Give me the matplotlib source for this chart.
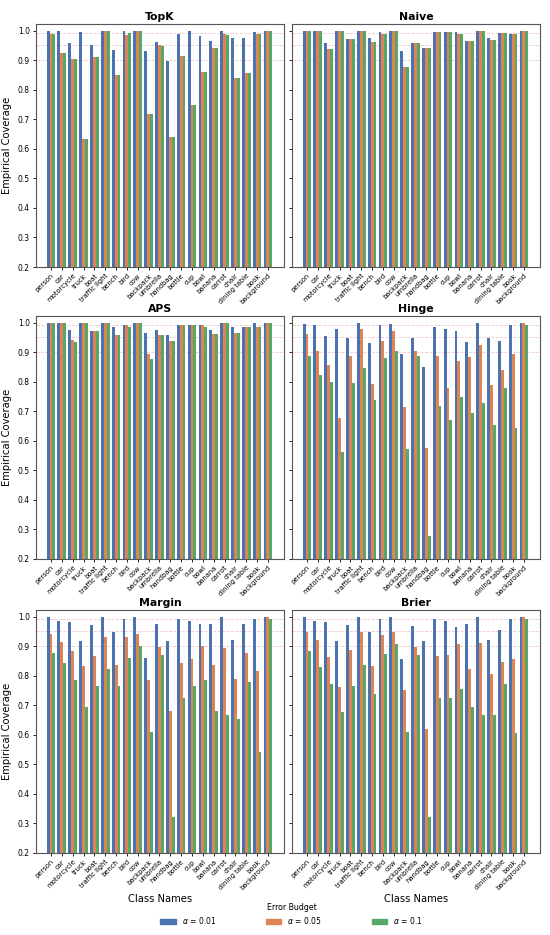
import matplotlib
matplotlib.use("Agg")
import matplotlib.pyplot as plt
import matplotlib.patches as mpatches
import numpy as np

categories = ["person", "car", "motorcycle", "truck", "boat", "traffic light", "bench",
              "bird", "cow", "backpack", "umbrella", "handbag", "bottle", "cup", "bowl",
              "banana", "carrot", "chair", "dining table", "book", "background"]
alphas = ["0.01", "0.05", "0.1"]

topk_01 = [0.997, 0.998, 0.957, 0.994, 0.951, 1.0, 0.934, 1.0, 0.998, 0.932, 0.960, 0.897, 0.989, 1.0, 0.981, 0.965, 1.0, 0.974, 0.975, 0.994, 1.0]
topk_05 = [0.989, 0.924, 0.904, 0.632, 0.909, 1.0, 0.849, 0.986, 0.997, 0.717, 0.952, 0.641, 0.913, 0.749, 0.858, 0.940, 0.989, 0.840, 0.856, 0.988, 1.0]
topk_10 = [0.989, 0.924, 0.904, 0.632, 0.909, 1.0, 0.849, 0.990, 0.997, 0.717, 0.949, 0.641, 0.913, 0.749, 0.858, 0.940, 0.986, 0.840, 0.856, 0.988, 1.0]

naive_01 = [1.0, 1.0, 0.958, 1.0, 0.972, 1.0, 0.975, 0.994, 1.0, 0.932, 0.959, 0.940, 0.994, 0.994, 0.994, 0.964, 1.0, 0.974, 0.990, 0.988, 1.0]
naive_05 = [1.0, 0.999, 0.938, 1.0, 0.972, 1.0, 0.961, 0.988, 1.0, 0.878, 0.959, 0.940, 0.994, 0.994, 0.989, 0.964, 1.0, 0.968, 0.990, 0.988, 1.0]
naive_10 = [1.0, 0.999, 0.938, 1.0, 0.972, 1.0, 0.961, 0.988, 1.0, 0.878, 0.959, 0.940, 0.994, 0.994, 0.989, 0.964, 1.0, 0.968, 0.990, 0.988, 1.0]

aps_01 = [1.0, 1.0, 0.974, 1.0, 0.970, 1.0, 0.986, 0.993, 1.0, 0.965, 0.974, 0.958, 0.993, 0.993, 0.993, 0.975, 1.0, 0.984, 0.986, 1.0, 1.0]
aps_05 = [1.0, 1.0, 0.940, 1.0, 0.970, 1.0, 0.958, 0.993, 1.0, 0.893, 0.957, 0.938, 0.993, 0.993, 0.993, 0.962, 1.0, 0.966, 0.986, 0.984, 1.0]
aps_10 = [1.0, 0.997, 0.934, 1.0, 0.970, 1.0, 0.958, 0.985, 1.0, 0.876, 0.957, 0.938, 0.993, 0.993, 0.985, 0.962, 1.0, 0.966, 0.986, 0.984, 1.0]

hinge_01 = [0.994, 0.990, 0.955, 0.977, 0.949, 1.0, 0.930, 0.992, 0.994, 0.893, 0.947, 0.851, 0.985, 0.977, 0.972, 0.934, 1.0, 0.946, 0.938, 0.992, 1.0]
hinge_05 = [0.960, 0.902, 0.856, 0.677, 0.888, 0.977, 0.792, 0.936, 0.971, 0.714, 0.904, 0.574, 0.888, 0.780, 0.870, 0.884, 0.924, 0.790, 0.841, 0.895, 0.999]
hinge_10 = [0.888, 0.824, 0.798, 0.563, 0.794, 0.845, 0.737, 0.880, 0.904, 0.573, 0.888, 0.277, 0.716, 0.671, 0.749, 0.693, 0.728, 0.654, 0.777, 0.644, 0.992]

margin_01 = [0.998, 0.986, 0.982, 0.918, 0.971, 1.0, 0.946, 0.993, 1.0, 0.858, 0.976, 0.918, 0.993, 0.986, 0.974, 0.976, 1.0, 0.922, 0.974, 0.993, 1.0]
margin_05 = [0.942, 0.915, 0.884, 0.833, 0.868, 0.932, 0.835, 0.930, 0.941, 0.786, 0.898, 0.681, 0.844, 0.856, 0.901, 0.835, 0.895, 0.789, 0.876, 0.815, 1.0]
margin_10 = [0.876, 0.842, 0.786, 0.694, 0.764, 0.823, 0.765, 0.858, 0.901, 0.609, 0.871, 0.322, 0.725, 0.764, 0.785, 0.681, 0.668, 0.652, 0.780, 0.541, 0.990]

brier_01 = [0.998, 0.985, 0.982, 0.918, 0.971, 1.0, 0.946, 0.993, 1.0, 0.857, 0.967, 0.918, 0.993, 0.986, 0.965, 0.976, 1.0, 0.922, 0.954, 0.993, 1.0]
brier_05 = [0.947, 0.919, 0.864, 0.763, 0.887, 0.946, 0.834, 0.936, 0.949, 0.751, 0.897, 0.619, 0.868, 0.871, 0.907, 0.821, 0.909, 0.805, 0.847, 0.855, 1.0]
brier_10 = [0.882, 0.828, 0.772, 0.678, 0.764, 0.837, 0.738, 0.874, 0.906, 0.609, 0.871, 0.321, 0.724, 0.726, 0.756, 0.693, 0.667, 0.666, 0.772, 0.606, 0.993]

methods = ["TopK", "Naive", "APS", "Hinge", "Margin", "Brier"]
series = {
    "TopK": [topk_01, topk_05, topk_10],
    "Naive": [naive_01, naive_05, naive_10],
    "APS": [aps_01, aps_05, aps_10],
    "Hinge": [hinge_01, hinge_05, hinge_10],
    "Margin": [margin_01, margin_05, margin_10],
    "Brier": [brier_01, brier_05, brier_10],
}

colors = ["#4C72B0", "#DD8452", "#55A868"]
W, H = 550, 935
fig = plt.figure(figsize=(W / 100, H / 100), dpi=100)

col_left = [36, 292]
col_width = 248
row_top = [24, 316, 610]
row_h = 243

x = np.arange(len(categories))
bw = 0.8 / 3
axes = []
for i, m in enumerate(methods):
    r, c = divmod(i, 2)
    ax = fig.add_axes([col_left[c] / W, 1 - (row_top[r] + row_h) / H, col_width / W, row_h / H])
    axes.append(ax)
    for k in range(3):
        ax.bar(x + (k - 1) * bw, series[m][k], width=bw, color=colors[k], linewidth=0, zorder=2)
    for a in alphas:
        ax.axhline(1 - float(a), color="#e8a0a0", lw=0.6, ls="--", alpha=0.6, zorder=1)
    ax.set_ylim(0.2, 1.022)
    ax.set_xlim(-1.38, len(categories) - 1 + 1.48)
    ax.set_yticks(np.arange(0.2, 1.01, 0.1))
    ax.set_xticks(x)
    ax.set_xticklabels(categories, rotation=45, ha="right", rotation_mode="anchor", fontsize=4.9)
    ax.tick_params(axis="y", labelsize=5.5, length=2.5, width=0.6, pad=2)
    ax.tick_params(axis="x", length=2.5, width=0.6, pad=1.5)
    if c == 0:
        ax.set_yticklabels([f"{v:.1f}" for v in np.arange(0.2, 1.01, 0.1)])
        ax.set_ylabel("Empirical Coverage", fontsize=7.2, labelpad=4)
    else:
        ax.set_yticklabels([])
    if r == 2:
        ax.set_xlabel("Class Names", fontsize=7.2, labelpad=2)
    ax.set_title(m, fontsize=7.8, fontweight="bold", pad=3)
    for s in ax.spines.values():
        s.set_color("#555555")
        s.set_linewidth(0.8)

handles = [mpatches.Patch(color=colors[k], label=rf"$\alpha$ = {alphas[k]}") for k in range(3)]
leg = fig.legend(handles=handles, loc="center", bbox_to_anchor=(0.53, 0.022), ncol=3,
                 frameon=False, fontsize=5.5, title="Error Budget", title_fontsize=5.7,
                 columnspacing=6.5, handlelength=2.0, handletextpad=0.8)

fig.savefig("out.png", dpi=100)
